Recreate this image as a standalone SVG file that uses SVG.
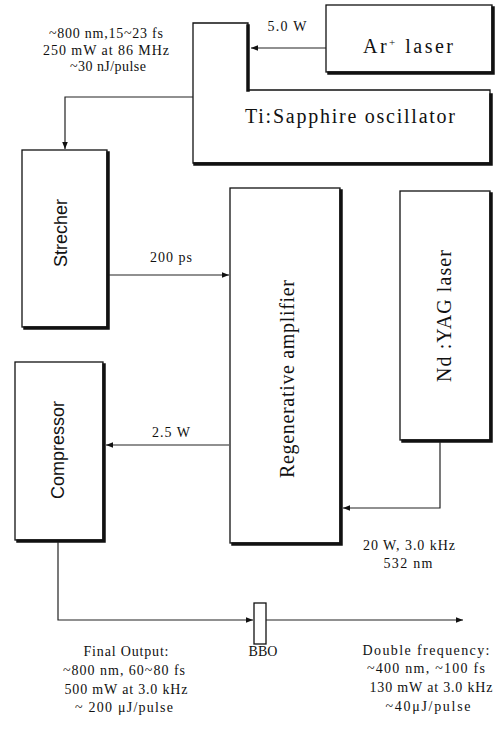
<svg xmlns="http://www.w3.org/2000/svg" width="500" height="733" viewBox="0 0 500 733">
<style>
.box{fill:#fff;stroke:#111;stroke-width:1.3}
.sh{fill:none;stroke:#111;stroke-width:3.5;stroke-linecap:square}
.ln{fill:none;stroke:#222;stroke-width:1.2}
.serif{font-family:"Liberation Serif","Times New Roman",serif;fill:#111}
.sans{font-family:"Liberation Sans",Arial,sans-serif;fill:#111}
.lbl{font-size:14px}
.big{font-size:20px}
.mid{text-anchor:middle}
</style>
<defs>
<marker id="arr" viewBox="0 0 10 10" refX="10" refY="5" markerWidth="8" markerHeight="7" markerUnits="userSpaceOnUse" orient="auto">
<path d="M0,1 L10,5 L0,9 Z" fill="#111"/>
</marker>
</defs>

<g id="ar-laser">
<rect class="box" x="326" y="5" width="166" height="67"/>
<polyline class="sh" points="493,8 493,73 329,73"/>
<text class="serif big mid" x="408" y="53" textLength="90" lengthAdjust="spacing">Ar<tspan font-size="11" dy="-7">+</tspan><tspan dy="7"> laser</tspan></text>
</g>

<g id="oscillator">
<path class="box" d="M193,23 H248 V90 H490 V163 H193 Z"/>
<polyline class="sh" points="248,26 248,90"/>
<polyline class="sh" points="491,95 491,164 195,164"/>
<text class="serif big mid" x="350" y="123" textLength="210" lengthAdjust="spacing">Ti:Sapphire oscillator</text>
</g>

<g id="stretcher">
<rect class="box" x="22" y="150" width="85" height="177"/>
<polyline class="sh" points="108,153 108,328 25,328"/>
<text class="sans mid" font-size="18" transform="translate(67,233) rotate(-90)">Strecher</text>
</g>

<g id="regen-amp">
<rect class="box" x="230" y="188" width="110" height="355"/>
<polyline class="sh" points="341,191 341,544 233,544"/>
<text class="serif mid" font-size="20" transform="translate(294,379) rotate(-90)" textLength="198" lengthAdjust="spacing">Regenerative amplifier</text>
</g>

<g id="ndyag-laser">
<rect class="box" x="400" y="191" width="90" height="249"/>
<polyline class="sh" points="491,194 491,441 403,441"/>
<text class="serif mid" font-size="20" transform="translate(451,316) rotate(-90)" textLength="132" lengthAdjust="spacing">Nd :YAG laser</text>
</g>

<g id="compressor">
<rect class="box" x="15" y="362" width="88" height="178"/>
<polyline class="sh" points="104,365 104,541 18,541"/>
<text class="sans mid" font-size="18" transform="translate(64,450) rotate(-90)">Compressor</text>
</g>

<g id="bbo">
<rect class="box" x="254" y="603" width="12" height="41"/>
<text class="serif lbl mid" x="263" y="656">BBO</text>
</g>

<g id="connectors">
<line class="ln" x1="326" y1="48" x2="251" y2="48" marker-end="url(#arr)"/>
<polyline class="ln" points="193,97 65,97 65,149" marker-end="url(#arr)"/>
<line class="ln" x1="109" y1="275" x2="229" y2="275" marker-end="url(#arr)"/>
<polyline class="ln" points="440,442 440,508 343,508" marker-end="url(#arr)"/>
<line class="ln" x1="229" y1="445" x2="106" y2="445" marker-end="url(#arr)"/>
<polyline class="ln" points="58,542 58,620 253,620" marker-end="url(#arr)"/>
<line class="ln" x1="266" y1="620" x2="463" y2="620" marker-end="url(#arr)"/>
</g>

<g id="labels">
<text class="serif lbl mid" x="287" y="31" textLength="39" lengthAdjust="spacing">5.0 W</text>
<text class="serif lbl mid" x="171" y="262" textLength="42" lengthAdjust="spacing">200 ps</text>
<text class="serif lbl mid" x="171" y="437" textLength="38" lengthAdjust="spacing">2.5 W</text>
<text class="serif lbl mid" x="409" y="550" textLength="92" lengthAdjust="spacing">20 W, 3.0 kHz</text>
<text class="serif lbl mid" x="408" y="568" textLength="49" lengthAdjust="spacing">532 nm</text>

<text class="serif lbl mid" x="106" y="38" textLength="114" lengthAdjust="spacing">~800 nm,15~23 fs</text>
<text class="serif lbl mid" x="106" y="55" textLength="126" lengthAdjust="spacing">250 mW at 86 MHz</text>
<text class="serif lbl mid" x="108" y="71" textLength="76" lengthAdjust="spacing">~30 nJ/pulse</text>

<text class="serif lbl mid" x="126" y="656" textLength="85" lengthAdjust="spacing">Final Output:</text>
<text class="serif lbl mid" x="124" y="675" textLength="122" lengthAdjust="spacing">~800 nm, 60~80 fs</text>
<text class="serif lbl mid" x="126" y="694" textLength="123" lengthAdjust="spacing">500 mW at 3.0 kHz</text>
<text class="serif lbl mid" x="124" y="712" textLength="98" lengthAdjust="spacing">~ 200 μJ/pulse</text>

<text class="serif lbl mid" x="426" y="655" textLength="127" lengthAdjust="spacing">Double frequency:</text>
<text class="serif lbl mid" x="426" y="673" textLength="118" lengthAdjust="spacing">~400 nm, ~100 fs</text>
<text class="serif lbl mid" x="431" y="692" textLength="123" lengthAdjust="spacing">130 mW at 3.0 kHz</text>
<text class="serif lbl mid" x="428" y="711" textLength="85" lengthAdjust="spacing">~40μJ/pulse</text>
</g>
</svg>
